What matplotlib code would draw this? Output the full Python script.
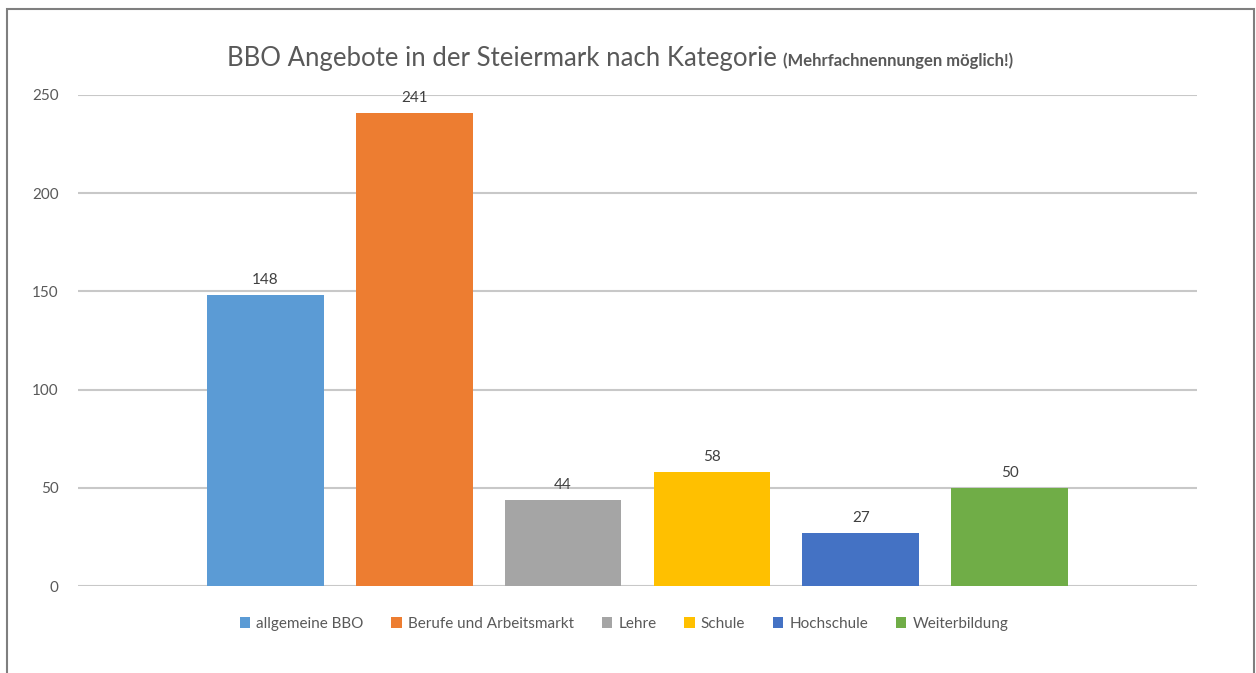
import matplotlib
matplotlib.use("Agg")
import matplotlib.pyplot as plt
from matplotlib.patches import Patch, Rectangle

categories = ["allgemeine BBO", "Berufe und Arbeitsmarkt", "Lehre", "Schule",
              "Hochschule", "Weiterbildung"]
values = [148, 241, 44, 58, 27, 50]
colors = ["#5B9BD5", "#ED7D31", "#A5A5A5", "#FFC000", "#4472C4", "#70AD47"]
yticks = [0, 50, 100, 150, 200, 250]

plt.rcParams["font.family"] = ["Lato", "DejaVu Sans"]

fig = plt.figure(figsize=(12.56, 6.73), dpi=100)
ax = fig.add_axes([78 / 1256, 1 - 586 / 673, (1197 - 78) / 1256, (586 - 95) / 673])

xs = list(range(len(values)))
ax.bar(xs, values, width=0.785, color=colors, zorder=3)
for x, v in zip(xs, values):
    ax.text(x, v + 4, str(v), ha="center", va="bottom", fontsize=11, color="#404040")

ax.set_xlim(-1.258, 6.258)
ax.set_ylim(0, 250)
ax.set_yticks(yticks)
ax.set_xticks([])
ax.tick_params(axis="y", length=0, pad=14, labelsize=11, labelcolor="#595959")
ax.grid(axis="y", color="#C8C8C8", lw=1.5, zorder=0)
for s in ax.spines.values():
    s.set_visible(False)

# title: regular part + small bold remark
fig.canvas.draw()
r = fig.canvas.get_renderer()
t1 = fig.text(0, 0, "BBO Angebote in der Steiermark nach Kategorie ", fontsize=18.5,
              color="#595959")
t2 = fig.text(0, 0, "(Mehrfachnennungen möglich!)", fontsize=12, weight="bold",
              color="#595959")
w1 = t1.get_window_extent(r).width
w2 = t2.get_window_extent(r).width
x0 = 620 - (w1 + w2) / 2
t1.set_position((x0 / 1256, 1 - 66 / 673))
t2.set_position(((x0 + w1) / 1256, 1 - 66 / 673))

handles = [Patch(facecolor=c, label=l) for c, l in zip(colors, categories)]
fig.legend(handles=handles, loc="center", bbox_to_anchor=(624 / 1256, 1 - 624 / 673),
           ncol=6, frameon=False, fontsize=11, labelcolor="#595959",
           handlelength=0.7, handleheight=0.7, handletextpad=0.4, columnspacing=1.8)

# chart frame
fig.add_artist(Rectangle((7 / 1256, -0.05), (1254 - 7) / 1256, 1.05 - 9 / 673,
                         transform=fig.transFigure, fill=False,
                         edgecolor="#7F7F7F", lw=1.5))

fig.savefig("out.png", dpi=100)
